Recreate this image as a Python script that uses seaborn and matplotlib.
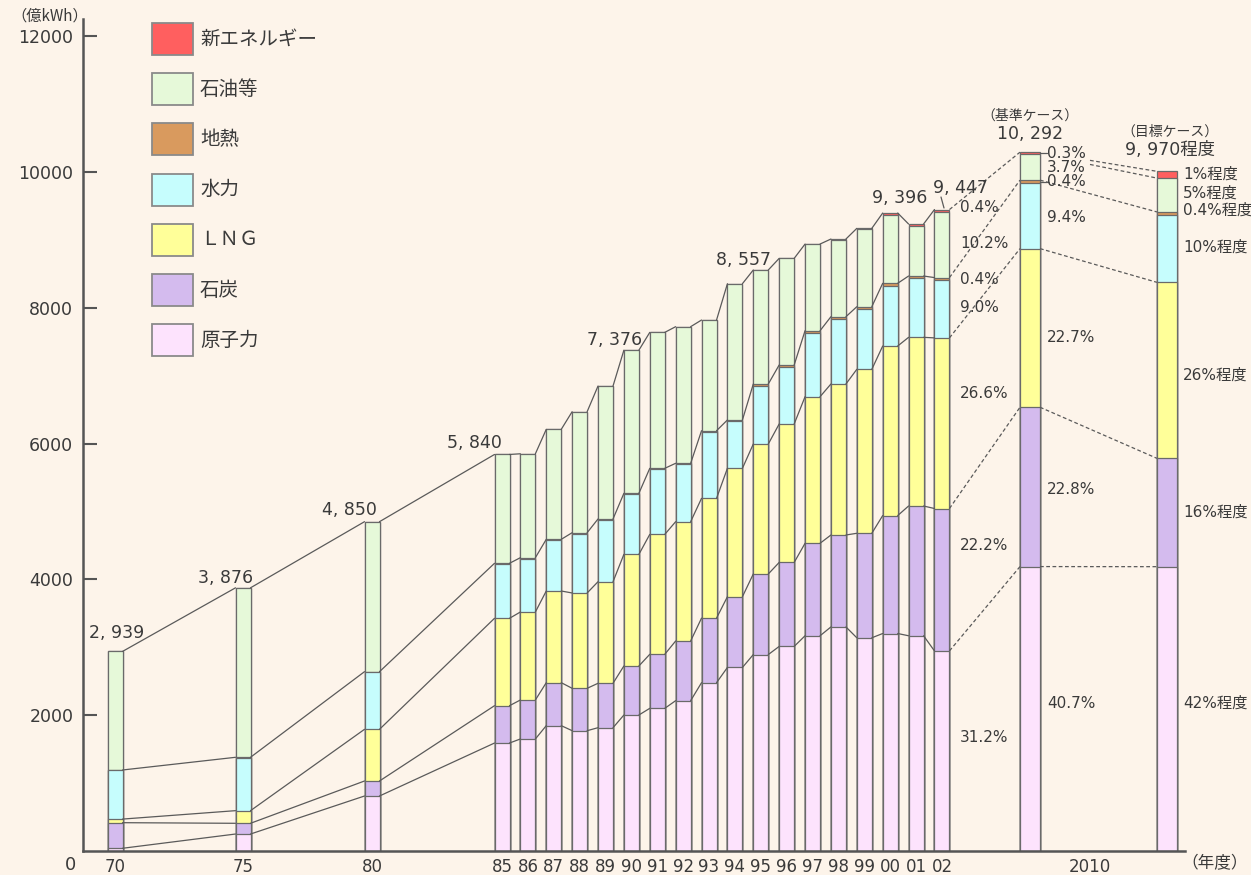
import numpy as np
import pandas as pd
import matplotlib
matplotlib.use("Agg")
import matplotlib.pyplot as plt
from matplotlib.patches import Rectangle
import seaborn as sns

# 電源別発電電力量の推移 (億kWh, 年度)
years = ['70', '75', '80', '85', '86', '87', '88', '89', '90', '91', '92',
         '93', '94', '95', '96', '97', '98', '99', '00', '01', '02']
nuclear = [40, 250, 810, 1590, 1650, 1846, 1772, 1816, 2003, 2101, 2214,
           2479, 2703, 2893, 3013, 3170, 3300, 3140, 3203, 3170, 2947]
coal = [377, 158, 221, 550, 574, 633, 624, 654, 722, 796, 879,
        951, 1042, 1187, 1237, 1362, 1354, 1539, 1737, 1911, 2097]
lng = [53, 186, 761, 1287, 1296, 1350, 1404, 1496, 1644, 1766, 1757,
       1764, 1891, 1914, 2039, 2159, 2224, 2415, 2497, 2484, 2513]
hydro = [722, 782, 840, 796, 786, 747, 874, 909, 882, 956, 843,
         979, 692, 854, 834, 935, 955, 887, 890, 867, 850]
geo = [1, 4, 9, 14, 14, 14, 14, 15, 17, 17, 17,
       17, 20, 30, 35, 37, 36, 35, 34, 36, 38]
oil = [1746, 2496, 2209, 1603, 1530, 1620, 1782, 1958, 2108, 2002, 2012,
       1630, 2007, 1679, 1570, 1271, 1134, 1139, 1010, 741, 964]
new = [0, 0, 0, 0, 0, 0, 0, 0, 0, 0, 0,
       0, 0, 0, 0, 5, 10, 15, 25, 25, 38]
labeled_years = ['70', '75', '80', '85', '90', '95', '00', '02']

share_2002 = [31.2, 22.2, 26.6, 9.0, 0.4, 10.2, 0.4]
base_total = 10292
base_share = [40.7, 22.8, 22.7, 9.4, 0.4, 3.7, 0.3]
target_total = 9970
target_share = [42, 16, 26, 10, 0.4, 5, 1]

sources = ['原子力', '石炭', 'ＬＮＧ', '水力', '地熱', '石油等', '新エネルギー']
colors = ['#fde3fd', '#d4bbee', '#ffff99', '#c6fdfd', '#d99a5e', '#e6f9d9', '#ff5f5f']

bg = '#fdf4ea'
txt = '#3a3a3a'
lc = '#5a5a5a'

sns.set_theme(style='white', rc={'axes.facecolor': bg, 'figure.facecolor': bg})
plt.rcParams['font.family'] = ['DejaVu Sans', 'Noto Sans CJK JP']

# layout in pixels
W, H = 1251, 875
X0, Y0 = 83, 851
PX = 0.0679  # px per 億kWh

hist_x = np.array([115, 243, 372] + [502 + 25.88 * i for i in range(18)])
proj_x = np.array([1030, 1167])
hist_w, proj_w = 15, 20

hist = np.array([nuclear, coal, lng, hydro, geo, oil, new], dtype=float)
proj = np.array([np.array(base_share) * base_total / 100,
                 np.array(target_share) * target_total / 100]).T
hist_cum = hist.cumsum(axis=0)
proj_cum = proj.cumsum(axis=0)

fig = plt.figure(figsize=(W / 100, H / 100), dpi=100)
ax = fig.add_axes([X0 / W, (H - Y0) / H, (W - X0) / W, Y0 / H])


def stack(xpos, cum, width_px):
    spacing = np.min(np.diff(np.sort(xpos)))
    # draw cumulative heights top layer first so lower layers cover them
    for k in range(len(sources) - 1, -1, -1):
        d = pd.DataFrame({'x': xpos, 'y': cum[k]})
        sns.barplot(data=d, x='x', y='y', native_scale=True,
                    width=width_px / spacing, color=colors[k], saturation=1,
                    edgecolor='#6a6a6a', linewidth=0.9, errorbar=None, ax=ax)


stack(hist_x, hist_cum, hist_w)
stack(proj_x, proj_cum, proj_w)

# connecting lines
for i in range(len(hist_x) - 1):
    for k in [0, 1, 2, 4, 6]:
        ax.plot([hist_x[i] + hist_w / 2, hist_x[i + 1] - hist_w / 2],
                [hist_cum[k, i], hist_cum[k, i + 1]], color=lc, lw=0.9)
dash = (0, (3, 2))
for k in [0, 1, 2, 4, 6]:
    ax.plot([hist_x[-1] + hist_w / 2, proj_x[0] - proj_w / 2],
            [hist_cum[k, -1], proj_cum[k, 0]], color=lc, lw=0.9, ls=dash)
for k in [0, 1, 2, 4, 5, 6]:
    xa, xb = proj_x[0] + proj_w / 2, proj_x[1] - proj_w / 2
    ya, yb = proj_cum[k, 0], proj_cum[k, 1]
    if k >= 5:
        # the top two lines start after the share labels
        xs = 1090
        ya = ya + (yb - ya) * (xs - xa) / (xb - xa)
        xa = xs
    ax.plot([xa, xb], [ya, yb], color=lc, lw=0.9, ls=dash)

ax.set_xlim(X0, W)
ax.set_ylim(0, Y0 / PX)
ax.set_xlabel('')
ax.set_ylabel('')
ax.grid(False)
ax.set_xticks(list(hist_x) + [1090])
ax.set_xticklabels(years + ['2010'])
ax.set_yticks(range(2000, 12001, 2000))
ax.tick_params(axis='y', direction='in', length=10, width=1.5, color='#555555',
               pad=7, labelsize=12.5, labelcolor=txt, left=True)
ax.tick_params(axis='x', length=0, pad=5, labelsize=12, labelcolor=txt)
sns.despine(ax=ax, top=True, right=True)
for s in ['left', 'bottom']:
    ax.spines[s].set_color('#555555')
    ax.spines[s].set_linewidth(1.8)
ax.spines['left'].set_bounds(0, 12250)
ax.spines['bottom'].set_bounds(X0, 1185)

# overlay in pixel coordinates for texts and legend
lay = fig.add_axes([0, 0, 1, 1], facecolor='none')
lay.set_xlim(0, W)
lay.set_ylim(H, 0)
lay.axis('off')

for j, k in enumerate(range(len(sources) - 1, -1, -1)):
    cy = 39 + 50.2 * j
    lay.add_patch(Rectangle((152, cy - 16), 41, 32, facecolor=colors[k],
                            edgecolor='#8a8a8a', lw=1.3))
    lay.text(200, cy, sources[k], fontsize=14, color=txt, va='center',
             ha='left', family=['Noto Sans CJK JP', 'DejaVu Sans'])

lay.text(50, 16, '（億kWh）', fontsize=11, color=txt, ha='center', va='center',
         family=['Noto Sans CJK JP', 'DejaVu Sans'])
lay.text(70, 865, '0', fontsize=13, color=txt, ha='center', va='center')
lay.text(1215, 864, '（年度）', fontsize=12, color=txt, ha='center', va='center',
         family=['Noto Sans CJK JP', 'DejaVu Sans'])

# totals above bars
total_pos = [(117, 633), (226, 578), (349, 510), (474, 443),
             (615, 340), (744, 260), (900, 198), (960, 188)]
totals = hist_cum[-1]
for yl, (px, py) in zip(labeled_years, total_pos):
    v = int(round(totals[years.index(yl)]))
    lay.text(px, py, f'{v:,}'.replace(',', ', '), fontsize=12.5, color=txt,
             ha='center', va='center')
lay.plot([941, 944], [197, 208], color=lc, lw=0.9)

lay.text(1030, 116, '（基準ケース）', fontsize=10, color=txt, ha='center',
         va='center', family=['Noto Sans CJK JP', 'DejaVu Sans'])
lay.text(1030, 134, f'{base_total:,}'.replace(',', ', '), fontsize=12.5,
         color=txt, ha='center', va='center')
lay.text(1170, 132, '（目標ケース）', fontsize=10, color=txt, ha='center',
         va='center', family=['Noto Sans CJK JP', 'DejaVu Sans'])
lay.text(1170, 150, f'{target_total:,}'.replace(',', ', ') + '程度',
         fontsize=12.5, color=txt, ha='center', va='center')

# share labels
col_2002 = [738, 545, 393, 308, 279, 243, 208]
col_base = [703, 489, 337, 217, 182, 168, 153]
col_target = [703, 512, 375, 247, 210, 193, 174]
for s, py in zip(share_2002, col_2002):
    lay.text(960, py, f'{s:.1f}%', fontsize=11, color=txt, ha='left', va='center')
for s, py in zip(base_share, col_base):
    lay.text(1047, py, f'{s}%', fontsize=11, color=txt, ha='left', va='center')
for s, py in zip(target_share, col_target):
    lay.text(1183, py, f'{s:g}%程度', fontsize=11, color=txt, ha='left', va='center')
for py in [153, 182]:
    lay.plot([1040, 1047], [py, py], color=lc, lw=0.9)

fig.savefig('out.png', dpi=100, facecolor=bg)
